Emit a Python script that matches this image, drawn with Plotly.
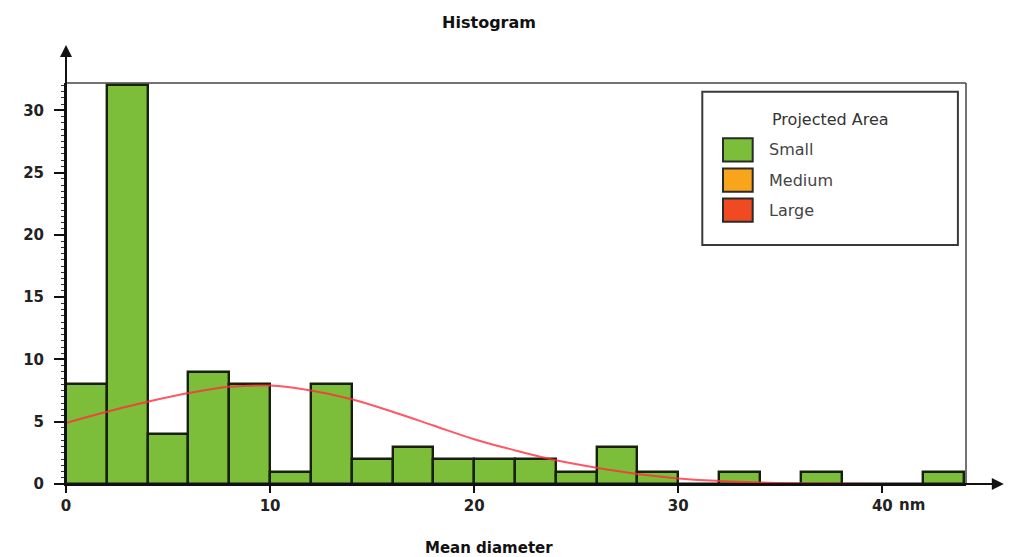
import plotly.graph_objects as go

# Histogram bins (left edges, nm) and counts
bin_left = [0, 2, 4, 6, 8, 10, 12, 14, 16, 18, 20, 22, 24, 26, 28, 30, 32, 34, 36, 38, 40, 42]
counts = [8, 32, 4, 9, 8, 1, 8, 2, 3, 2, 2, 2, 1, 3, 1, 0, 1, 0, 1, 0, 0, 1]
bin_width = 2

# Fitted distribution curve
curve_x = [0, 2, 4, 6, 8, 10, 12, 14, 16, 18, 20, 22, 24, 26, 28, 30, 32, 34, 36, 38, 40, 42, 44]
curve_y = [4.9, 5.8, 6.6, 7.3, 7.8, 7.9, 7.5, 6.8, 5.8, 4.7, 3.6, 2.7, 1.9, 1.3, 0.8, 0.45, 0.25,
           0.12, 0.05, 0.02, 0.01, 0.0, 0.0]

# Axis ticks
x_tickvals = [0, 10, 20, 30, 40]
x_ticktext = ["0", "10", "20", "30", "40"]
x_unit = "nm"
y_tickvals = [0, 5, 10, 15, 20, 25, 30]

legend_title = "Projected Area"
legend_names = ["Small", "Medium", "Large"]
legend_colors = ["#7cbd3a", "#f8a51c", "#f04a22"]

FONT = "DejaVu Sans"

fig = go.Figure()
fig.add_trace(go.Bar(
    x=bin_left, y=counts, width=bin_width, offset=0,
    marker=dict(color=legend_colors[0], line=dict(color="#17200c", width=2.4)),
    showlegend=False,
))
fig.add_trace(go.Scatter(
    x=curve_x, y=curve_y, mode="lines",
    line=dict(color="rgba(255,45,60,0.8)", width=2, shape="spline"),
    showlegend=False,
))

# Manual legend (box, title, swatches)
lx0, lx1, ly0, ly1 = 0.707, 0.991, 0.596, 0.978
shapes = [
    dict(type="rect", xref="x domain", yref="y domain", x0=lx0, x1=lx1, y0=ly0, y1=ly1,
         line=dict(color="#3a3a3a", width=2), fillcolor="white", layer="above"),
    # plot frame (top & right)
    dict(type="line", xref="x domain", yref="y domain", x0=0, x1=1, y0=1, y1=1,
         line=dict(color="#444", width=1.5)),
    dict(type="line", xref="x domain", yref="y domain", x0=1, x1=1, y0=0, y1=1,
         line=dict(color="#444", width=1.5)),
]
annotations = [
    dict(xref="x domain", yref="y domain", x=(lx0 + lx1) / 2, y=0.908, text=legend_title,
         showarrow=False, font=dict(family=FONT, size=16, color="#333"), xanchor="center",
         yanchor="middle"),
]
row_y = [0.833, 0.758, 0.683]
for name, col, yy in zip(legend_names, legend_colors, row_y):
    shapes.append(dict(type="rect", xref="x domain", yref="y domain",
                       x0=0.730, x1=0.763, y0=yy - 0.029, y1=yy + 0.029,
                       line=dict(color="#2a2a2a", width=2), fillcolor=col, layer="above"))
    annotations.append(dict(xref="x domain", yref="y domain", x=0.779, y=yy, text=name,
                            showarrow=False, xanchor="left", yanchor="middle",
                            font=dict(family=FONT, size=16, color="#444")))

# Axis arrows
annotations.append(dict(xref="x domain", yref="y domain", axref="x domain", ayref="y domain",
                        x=1.042, y=0, ax=0, ay=0, text="", showarrow=True,
                        arrowhead=2, arrowsize=1.2, arrowwidth=2, arrowcolor="#111"))
annotations.append(dict(xref="x domain", yref="y domain", axref="x domain", ayref="y domain",
                        x=0, y=1.095, ax=0, ay=0, text="", showarrow=True,
                        arrowhead=2, arrowsize=1.2, arrowwidth=2, arrowcolor="#111"))
# unit next to last x tick
annotations.append(dict(xref="x", yref="y domain", x=x_tickvals[-1], y=0, text="<b>" + x_unit + "</b>",
                        showarrow=False, xanchor="left", yanchor="middle", xshift=15, yshift=-21,
                        font=dict(family=FONT, size=15, color="#222")))
# x-axis title
annotations.append(dict(xref="x domain", yref="y domain", x=0.47, y=0, text="<b>Mean diameter</b>",
                        showarrow=False, xanchor="center", yanchor="middle", yshift=-64,
                        font=dict(family=FONT, size=15, color="#111")))

fig.update_layout(
    width=1007, height=549,
    margin=dict(l=58, r=49, t=75, b=73),
    plot_bgcolor="white", paper_bgcolor="white",
    bargap=0,
    title=dict(text="<b>Histogram</b>", x=0.4777, xanchor="center", y=0.9745, yanchor="middle",
               font=dict(family=FONT, size=16, color="#111")),
    shapes=shapes, annotations=annotations,
    font=dict(family=FONT),
)
fig.update_xaxes(
    range=[0, 44.1], tickvals=x_tickvals, ticktext=x_ticktext,
    ticks="outside", ticklen=7, tickwidth=2, tickcolor="#111",
    showline=True, linecolor="#111", linewidth=2, showgrid=False, zeroline=False,
    tickfont=dict(family=FONT, size=15, color="#222", weight="bold"),
    automargin=False,
)
fig.update_yaxes(
    range=[0, 32.2], tickvals=y_tickvals,
    ticks="outside", ticklen=10, tickwidth=2, tickcolor="#111",
    ticklabelstandoff=7,
    minor=dict(dtick=0.5, ticks="outside", ticklen=3, tickwidth=1, tickcolor="#333"),
    showline=True, linecolor="#111", linewidth=2, showgrid=False, zeroline=False,
    tickfont=dict(family=FONT, size=15, color="#222", weight="bold"),
    automargin=False,
)

fig.write_html("out.html")
